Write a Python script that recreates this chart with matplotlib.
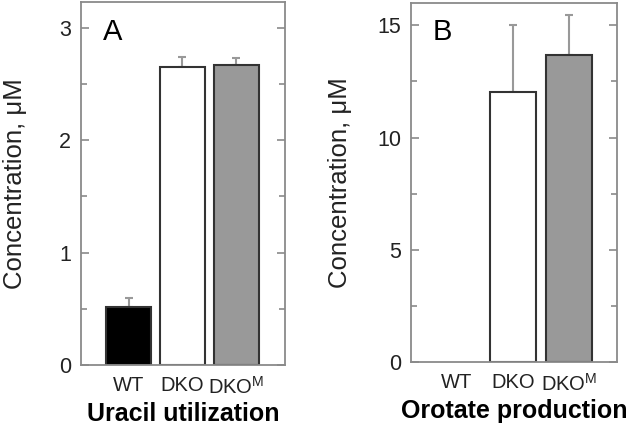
import matplotlib
matplotlib.use('Agg')
import matplotlib.pyplot as plt
import numpy as np

plt.rcParams['font.family'] = ['Liberation Sans', 'DejaVu Sans']
plt.rcParams['mathtext.fontset'] = 'custom'
plt.rcParams['mathtext.rm'] = 'Liberation Sans'

# Data
groups = ['WT', 'DKO', r'DKO$^{\mathrm{M}}$']
bar_colors = ['#000000', '#ffffff', '#999999']

uracil = [0.52, 2.65, 2.67]      # panel A, uM
uracil_err = [0.08, 0.09, 0.06]

orotate = [0.0, 12.05, 13.67]    # panel B, uM
orotate_err = [0.0, 2.95, 1.81]

fig = plt.figure(figsize=(6.34, 4.28), dpi=100)
axA = fig.add_axes([0.1278, 0.1472, 0.3218, 0.8481])
axB = fig.add_axes([0.6483, 0.1549, 0.3249, 0.8380])

spine_col = '#8a8a8a'


def style(ax, ymax, major, minor, xl, lab_x):
    x = np.arange(len(groups))
    ax.set_ylim(0, ymax)
    ax.set_xlim(xl)
    ax.set_yticks(np.arange(0, ymax, major))
    ax.set_yticks(np.arange(minor, ymax, major), minor=True)
    ax.tick_params(axis='y', which='both', direction='in', right=True,
                   color=spine_col, width=1.2, labelsize=15.5, pad=7,
                   labelcolor='#222222')
    ax.tick_params(axis='y', which='major', length=6)
    ax.tick_params(axis='y', which='minor', length=4)
    ax.set_xticks(x)
    ax.set_xticklabels(groups)
    ax.tick_params(axis='x', length=0, labelsize=14.5, pad=8,
                   labelcolor='#222222')
    for s in ax.spines.values():
        s.set_color(spine_col)
        s.set_linewidth(1.3)
    ax.set_ylabel('Concentration, μM', fontsize=18.5, color='#222222')
    ax.yaxis.set_label_coords(lab_x, 0.5)


x = np.arange(len(groups))

axA.bar(x, uracil, width=0.83, color=bar_colors, edgecolor='#333333',
        linewidth=1.5, zorder=2)
axA.errorbar(x, uracil, yerr=[np.zeros(3), uracil_err], fmt='none',
             ecolor='#999999', elinewidth=1.5, capsize=3, capthick=1.5,
             zorder=1)
style(axA, 3.23, 1, 0.5, (-0.88, 2.9), -0.265)
axA.set_xlabel('Uracil utilization', fontsize=18, fontweight='bold',
               labelpad=3)
axA.text(0.108, 0.895, 'A', transform=axA.transAxes, fontsize=21,
         ha='left', va='baseline')

axB.bar(x[1:], orotate[1:], width=0.81, color=bar_colors[1:],
        edgecolor='#333333', linewidth=1.5, zorder=2)
axB.errorbar(x[1:], orotate[1:], yerr=[np.zeros(2), orotate_err[1:]],
             fmt='none', ecolor='#999999', elinewidth=1.5, capsize=3,
             capthick=1.5, zorder=1)
style(axB, 16.0, 5, 2.5, (-0.82, 2.857), -0.285)
axB.set_xlabel('Orotate production', fontsize=18, fontweight='bold',
               labelpad=3)
axB.text(0.107, 0.897, 'B', transform=axB.transAxes, fontsize=21,
         ha='left', va='baseline')

fig.savefig('out.png', dpi=100)
